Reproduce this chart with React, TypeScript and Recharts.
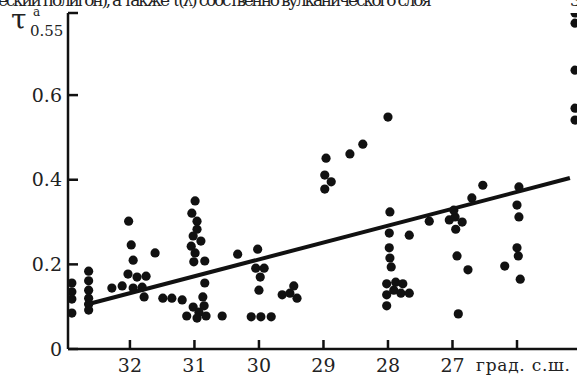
import { ScatterChart, Scatter, XAxis, YAxis } from "recharts";

// latitude (deg N) / aerosol optical depth pairs, grouped by latitude band
const band33 = [
  [32.9, 0.156], [32.9, 0.135], [32.9, 0.118], [32.9, 0.085],
  [32.64, 0.184], [32.64, 0.161], [32.64, 0.139], [32.64, 0.12], [32.64, 0.106], [32.64, 0.092],
  [32.28, 0.144], [32.12, 0.149],
];
const band32 = [
  [32.02, 0.302], [31.98, 0.246], [31.95, 0.21], [32.03, 0.177], [31.89, 0.17],
  [31.75, 0.172], [31.95, 0.144], [31.81, 0.146], [31.78, 0.123], [31.61, 0.227],
  [31.49, 0.12], [31.35, 0.12], [31.19, 0.116],
];
const band31 = [
  [30.99, 0.35], [31.04, 0.321], [30.96, 0.302], [30.96, 0.283], [31.02, 0.267],
  [30.9, 0.255], [31.05, 0.243], [30.99, 0.227], [31.01, 0.206], [30.84, 0.208],
  [30.84, 0.156], [30.87, 0.123], [30.85, 0.102], [31.02, 0.099], [31.12, 0.078],
  [30.93, 0.087], [30.96, 0.073], [30.82, 0.078], [30.57, 0.078],
];
const band30 = [
  [30.33, 0.224], [30.02, 0.236], [30.05, 0.191], [29.92, 0.191], [29.98, 0.17],
  [30.0, 0.139], [30.12, 0.076], [29.97, 0.076], [29.81, 0.076],
  [29.64, 0.128], [29.52, 0.132], [29.46, 0.149], [29.41, 0.12],
];
const band29 = [
  [28.96, 0.451], [28.98, 0.411], [28.88, 0.395], [28.98, 0.378],
  [28.59, 0.461], [28.39, 0.484], [28.0, 0.548],
];
const band28 = [
  [27.97, 0.324], [27.98, 0.274], [27.67, 0.269], [27.98, 0.239], [27.97, 0.215],
  [27.95, 0.194], [28.02, 0.154], [27.88, 0.158], [27.77, 0.154], [27.91, 0.139],
  [27.8, 0.132], [27.67, 0.132], [28.02, 0.128], [28.02, 0.102],
];
const band27 = [
  [27.36, 0.302], [27.05, 0.305], [26.96, 0.312], [26.85, 0.3], [26.95, 0.283],
  [26.98, 0.328], [26.93, 0.22], [26.76, 0.187], [26.91, 0.083], [26.7, 0.357],
  [26.53, 0.387],
];
const band26 = [
  [25.97, 0.383], [26.0, 0.34], [25.97, 0.312], [26.0, 0.239], [25.98, 0.22],
  [25.95, 0.165], [26.19, 0.196],
];
const band25 = [[25.1, 0.794], [25.1, 0.77], [25.1, 0.659], [25.1, 0.569], [25.1, 0.541]];

// linear fit
const fitLat = [32.7, 25.18];
const fitTau = [0.104, 0.404];

const xTicks = [32, 31, 30, 29, 28, 27, 26];
const yTicks = [0, 0.2, 0.4, 0.6, 0.794];
const xDomain = [25.07, 32.96];
const yDomain = [0, 0.794];

const points = [band33, band32, band31, band30, band29, band28, band27, band26, band25]
  .flat()
  .map(([lat, tau]) => ({ lat, tau }));
const fitLine = fitLat.map((lat, i) => ({ lat, tau: fitTau[i] }));

const serif = { fontFamily: "'DejaVu Serif', 'Liberation Serif', serif" };
const PLOT_LEFT = 68;
const PLOT_BOTTOM = 349;

const Dot = (p: any) => <circle cx={p.cx} cy={p.cy} r={4.6} fill="#111" />;

const YTick = ({ y, payload }: any) => {
  const v = payload.value;
  const label = v > 0.7 ? "" : v === 0 ? "0" : v.toFixed(1);
  return (
    <g>
      <line x1={PLOT_LEFT} x2={PLOT_LEFT + 10} y1={y} y2={y} stroke="#111" strokeWidth={2.5} />
      {label && (
        <text x={62} y={y} dy="0.35em" textAnchor="end" style={serif} fontSize={19} fill="#222">
          {label}
        </text>
      )}
    </g>
  );
};

const XTick = ({ x, payload }: any) => {
  const v = payload.value;
  return (
    <g>
      <line x1={x} x2={x} y1={PLOT_BOTTOM} y2={PLOT_BOTTOM - 9} stroke="#111" strokeWidth={2.5} />
      {v === 26 ? (
        <text x={476} y={365} dy="0.35em" style={serif} fontSize={17} textLength={94} fill="#222">
          град. с.ш.
        </text>
      ) : (
        <text x={x} y={365} dy="0.35em" textAnchor="middle" style={serif} fontSize={19} fill="#222">
          {v}
        </text>
      )}
    </g>
  );
};

export default function App() {
  return (
    <div style={{ position: "absolute", left: 0, top: 0, width: 577, height: 376, background: "#fff" }}>
      <ScatterChart width={577} height={376} margin={{ top: 13, right: 0, bottom: 0, left: 0 }}>
        <XAxis
          type="number"
          dataKey="lat"
          domain={xDomain}
          reversed
          ticks={xTicks}
          height={27}
          axisLine={{ stroke: "#111", strokeWidth: 2.5 }}
          tickLine={false}
          tick={<XTick />}
          allowDataOverflow
        />
        <YAxis
          type="number"
          dataKey="tau"
          domain={yDomain}
          ticks={yTicks}
          width={68}
          axisLine={{ stroke: "#111", strokeWidth: 2.5 }}
          tickLine={false}
          tick={<YTick />}
          allowDataOverflow
        />
        <Scatter data={points} shape={Dot} isAnimationActive={false} />
        <Scatter
          data={fitLine}
          line={{ stroke: "#111", strokeWidth: 4 }}
          shape={() => null}
          isAnimationActive={false}
        />
      </ScatterChart>
      <svg width={577} height={376} style={{ position: "absolute", left: 0, top: 0, pointerEvents: "none" }}>
        <text x={-2} y={6} style={serif} fontSize={17} textLength={434} fill="#222">
          еский полигон), а также τ(λ) собственно вулканического слоя
        </text>
        <text x={570} y={6} style={serif} fontSize={17} fill="#222">
          3
        </text>
        <text x={11} y={29} style={serif} fontSize={28} fill="#222">
          τ
        </text>
        <text x={33} y={16} style={serif} fontSize={12} fill="#222">
          a
        </text>
        <text x={30} y={36} style={serif} fontSize={15} fill="#222">
          0.55
        </text>
      </svg>
    </div>
  );
}
